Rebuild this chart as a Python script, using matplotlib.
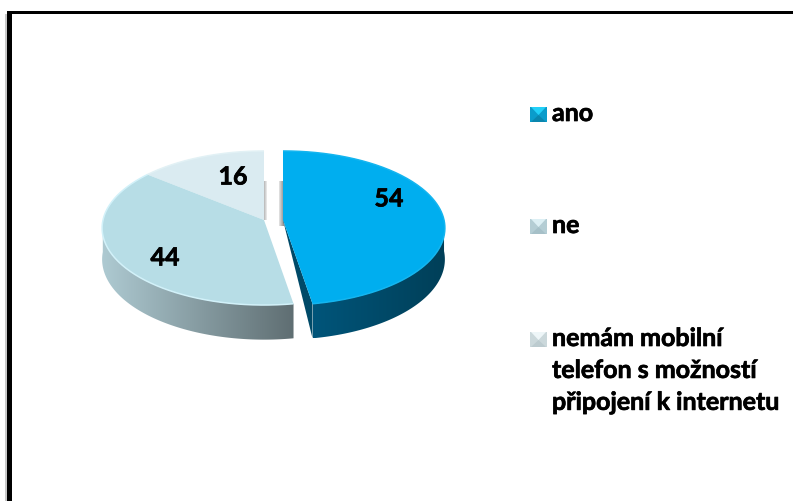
import numpy as np
import matplotlib
matplotlib.use("Agg")
import matplotlib.pyplot as plt
import matplotlib.patheffects as pe
from matplotlib.patches import Polygon

labels = ["ano", "ne", "nemám mobilní\ntelefon s možností\npřipojení k internetu"]
values = [54, 44, 16]
top_colors = ["#00AEEF", "#B7DDE6", "#DAEBF1"]
wall_left = ["#00557A", "#AECAD2", "#DAEBF1"]
wall_right = ["#003F58", "#5F6E72", "#DAEBF1"]
rim_colors = ["#14B5EF", "#D2F1F9", "#E2F1F5"]
marker_top = ["#22D0F8", "#DCEFF4", "#EEF6F8"]
marker_side = ["#0A9CCB", "#B4CDD4", "#CBD8DB"]
marker_bottom = ["#0A86AE", "#A6C0C8", "#BCCBCF"]
# x shift of each slice in pixels (only "ano" is pulled out)
shifts = [19, 0, 0]
label_xy = [(389, 199), (165, 258), (233, 177)]

CX, CY = 264, 220
RX, RY, K = 161, 76.2, 0.104
DEPTH = 31
# slightly heavier text, the reference font is a dense bold
HEAVY = [pe.withStroke(linewidth=0.5, foreground="black")]


def project(theta, rho=1.0, z=0.0):
    # theta in degrees, clockwise from the back of the pie
    t = np.radians(theta)
    x = rho * np.sin(t)
    y = rho * np.cos(t)
    w = 1 + K * y
    return CX + RX * x / w, CY - RY * y / w + z / w


def gradient_fill(ax, xs, ys, c0, c1):
    # left to right colour ramp clipped to a polygon
    cmap = matplotlib.colors.LinearSegmentedColormap.from_list("g", [c0, c1])
    ramp = np.linspace(0, 1, 256).reshape(1, -1)
    im = ax.imshow(ramp, cmap=cmap, aspect="auto", interpolation="bilinear",
                   extent=[min(xs), max(xs), max(ys), min(ys)])
    im.set_clip_path(Polygon(np.c_[xs, ys], transform=ax.transData))


fig = plt.figure(figsize=(7.93, 5.01), dpi=100)
ax = fig.add_axes([0, 0, 1, 1])
ax.axis("off")

# frame, only left and top sides exist in the picture
ax.fill([7, 12, 12, 7], [11, 11, 501, 501], color="black", lw=0)
ax.fill([7, 793, 793, 7], [11, 11, 14, 14], color="black", lw=0)
ax.fill([5, 7, 7, 5], [14, 14, 501, 501], color="#c8c8c8", lw=0)

edges = np.cumsum([0] + values) / sum(values) * 360

# thin inner faces seen in the gap behind the centre
gradient_fill(ax, [264, 267, 267, 264], [181, 181, 220, 220], "#B4B4B4", "#F0F0F0")
gradient_fill(ax, [279, 283.5, 283.5, 279], [181, 181, 226, 226], "#E8E8E8", "#8A8A8A")

# draw back slice first, the pulled out one last
for i in [2, 1, 0]:
    a0, a1 = edges[i], edges[i + 1]
    th = np.linspace(a0, a1, 160)
    sx = shifts[i]

    # outer wall, only the front half is visible
    front = th[(th > 90) & (th < 270)] if i != 2 else np.array([])
    if len(front) > 1:
        xt, yt = project(front)
        xb, yb = project(front, z=DEPTH)
        gradient_fill(ax, np.r_[xt, xb[::-1]] + sx, np.r_[yt, yb[::-1]], wall_left[i], wall_right[i])

    # cut face of the pulled out slice
    if shifts[i] > 0:
        x1, y1 = project(a1)
        xb1, yb1 = project(a1, z=DEPTH)
        ax.fill([CX + sx, x1 + sx, xb1 + sx], [CY, y1, yb1], color="#004A68", lw=0)

    # top face
    xs, ys = project(th)
    ax.fill(np.r_[CX + sx, xs + sx], np.r_[CY, ys], color=top_colors[i], lw=0)
    ax.plot(xs + sx, ys, color=rim_colors[i], lw=1.1, solid_capstyle="butt")

for (x, y), v in zip(label_xy, values):
    ax.text(x, y, str(v), ha="center", va="center", family="Lato", weight="bold", fontsize=18,
            color="black", path_effects=HEAVY)

# legend
legend_y = [113, 225, 338]
for i, (lab, y) in enumerate(zip(labels, legend_y)):
    x0, x1 = 530, 547
    y0, y1 = y - 6, y + 9
    xm, ym = (x0 + x1) / 2, y + 2
    ax.fill([x0, x1, x1, x0], [y0, y0, y1, y1], color=marker_side[i], lw=0)
    ax.fill([x0 + 1, x1 - 1, xm], [y0, y0, ym], color=marker_top[i], lw=0)
    ax.fill([x0 + 1, x1 - 1, xm], [y1, y1, ym], color=marker_bottom[i], lw=0)
    ax.text(552, y - 11, lab, ha="left", va="top", family="Lato", weight="bold", fontsize=18,
            color="black", linespacing=1.47, path_effects=HEAVY)

ax.set_xlim(0, 793)
ax.set_ylim(501, 0)
fig.savefig("out.png", dpi=100)
